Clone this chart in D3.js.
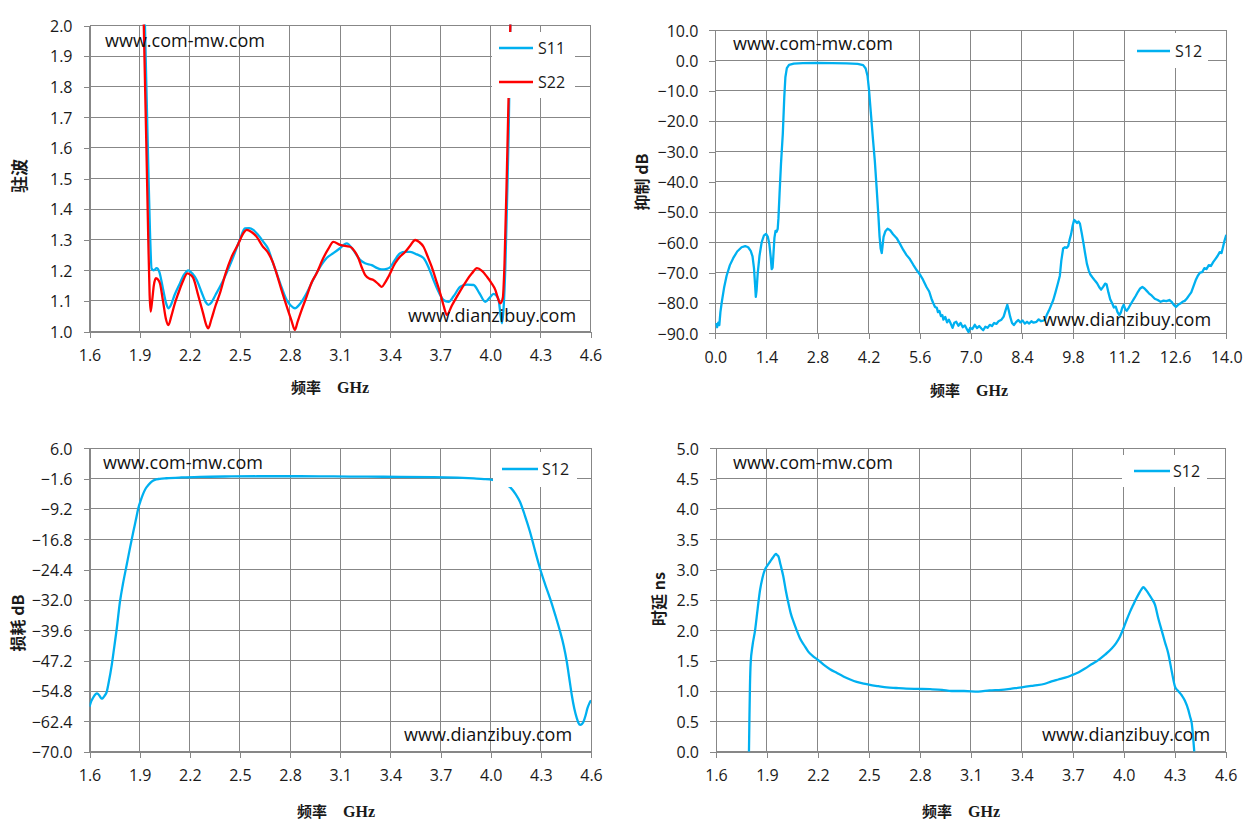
<!DOCTYPE html>
<html><head><meta charset="utf-8">
<script src="https://cdn.jsdelivr.net/npm/d3@7"></script>
<style>
html,body{margin:0;padding:0;background:#fff;}
svg{display:block;}
</style>
</head><body>
<svg id="chart" width="1255" height="833"></svg>
<script>
// ---------- tick labels ----------
const freqTicksNarrow = [1.6,1.9,2.2,2.5,2.8,3.1,3.4,3.7,4.0,4.3,4.6];
const freqTicksWide = [0,1.4,2.8,4.2,5.6,7.0,8.4,9.8,11.2,12.6,14.0];
const vswrTicks = [1.0,1.1,1.2,1.3,1.4,1.5,1.6,1.7,1.8,1.9,2.0];
const rejTicks = [-90,-80,-70,-60,-50,-40,-30,-20,-10,0,10];
const lossTicks = [-70,-62.4,-54.8,-47.2,-39.6,-32,-24.4,-16.8,-9.2,-1.6,6.0];
const delayTicks = [0,0.5,1.0,1.5,2.0,2.5,3.0,3.5,4.0,4.5,5.0];

// ---------- series (freq GHz, value) ----------
const vswrS11 = [[1.92,2.25],[1.932,2.0],[1.945,1.70],[1.952,1.54],[1.962,1.33],[1.972,1.205],[1.985,1.200],[2.002,1.207],[2.018,1.195],[2.04,1.14],[2.06,1.09],[2.072,1.076],[2.09,1.09],[2.11,1.12],[2.142,1.158],[2.165,1.185],[2.192,1.200],[2.215,1.19],[2.242,1.168],[2.27,1.13],[2.295,1.097],[2.311,1.087],[2.33,1.095],[2.355,1.12],[2.381,1.146],[2.42,1.19],[2.461,1.244],[2.50,1.30],[2.531,1.337],[2.556,1.338],[2.581,1.332],[2.61,1.315],[2.641,1.293],[2.67,1.27],[2.695,1.23],[2.721,1.19],[2.75,1.145],[2.781,1.103],[2.805,1.085],[2.83,1.076],[2.86,1.09],[2.90,1.125],[2.94,1.17],[2.98,1.21],[3.02,1.24],[3.06,1.256],[3.10,1.272],[3.14,1.288],[3.18,1.266],[3.22,1.234],[3.25,1.223],[3.29,1.217],[3.32,1.208],[3.35,1.203],[3.38,1.205],[3.40,1.21],[3.43,1.235],[3.46,1.256],[3.49,1.26],[3.52,1.26],[3.56,1.252],[3.60,1.24],[3.63,1.21],[3.66,1.168],[3.69,1.13],[3.72,1.103],[3.75,1.097],[3.78,1.115],[3.82,1.146],[3.86,1.153],[3.90,1.152],[3.935,1.125],[3.97,1.097],[3.995,1.11],[4.02,1.123],[4.04,1.115],[4.05,1.103],[4.06,1.06],[4.07,1.027],[4.08,1.08],[4.09,1.21],[4.10,1.42],[4.11,1.65],[4.12,2.0],[4.13,2.3]];
const vswrS22 = [[1.915,2.25],[1.925,2.0],[1.94,1.62],[1.952,1.30],[1.96,1.12],[1.966,1.065],[1.975,1.10],[1.985,1.15],[1.998,1.174],[2.01,1.17],[2.022,1.157],[2.04,1.10],[2.058,1.04],[2.072,1.021],[2.09,1.05],[2.11,1.09],[2.132,1.125],[2.16,1.165],[2.186,1.19],[2.205,1.185],[2.222,1.174],[2.25,1.12],[2.28,1.06],[2.30,1.02],[2.311,1.010],[2.33,1.04],[2.355,1.085],[2.381,1.125],[2.415,1.19],[2.451,1.244],[2.49,1.285],[2.52,1.32],[2.541,1.332],[2.57,1.325],[2.60,1.31],[2.635,1.28],[2.671,1.256],[2.695,1.23],[2.72,1.19],[2.75,1.135],[2.781,1.082],[2.81,1.035],[2.83,1.005],[2.845,1.03],[2.87,1.07],[2.90,1.114],[2.93,1.16],[2.96,1.19],[3.00,1.24],[3.03,1.27],[3.06,1.293],[3.10,1.283],[3.16,1.277],[3.19,1.26],[3.21,1.24],[3.23,1.21],[3.25,1.185],[3.28,1.172],[3.30,1.168],[3.33,1.155],[3.35,1.146],[3.37,1.16],[3.39,1.179],[3.43,1.223],[3.46,1.245],[3.49,1.26],[3.52,1.28],[3.55,1.299],[3.575,1.292],[3.60,1.277],[3.625,1.245],[3.65,1.21],[3.675,1.168],[3.70,1.125],[3.72,1.085],[3.74,1.054],[3.77,1.085],[3.80,1.114],[3.83,1.142],[3.86,1.168],[3.89,1.19],[3.92,1.207],[3.95,1.198],[3.98,1.179],[4.005,1.16],[4.03,1.136],[4.045,1.11],[4.06,1.092],[4.075,1.11],[4.085,1.22],[4.10,1.54],[4.11,1.78],[4.12,2.0],[4.13,2.3]];

const rejS12 = [[0.02,-86.6],[0.05,-88.0],[0.08,-86.5],[0.11,-87.3],[0.14,-83],[0.18,-79.5],[0.24,-75],[0.31,-71],[0.40,-67.5],[0.49,-65.2],[0.60,-63],[0.72,-61.6],[0.82,-61.2],[0.90,-61.6],[0.97,-62.8],[1.02,-64.6],[1.06,-68.5],[1.09,-74],[1.11,-78],[1.13,-76],[1.16,-70.5],[1.21,-64.5],[1.27,-60],[1.33,-57.8],[1.39,-57.2],[1.44,-58.2],[1.48,-60.5],[1.52,-65],[1.545,-68.8],[1.57,-68.3],[1.59,-64.5],[1.62,-58.5],[1.65,-56.2],[1.68,-56.5],[1.71,-55.5],[1.73,-52],[1.76,-44],[1.80,-34],[1.85,-24],[1.89,-12],[1.92,-5.5],[1.96,-2.5],[2.02,-1.4],[2.15,-1.0],[2.4,-0.85],[2.8,-0.8],[3.2,-0.82],[3.6,-0.9],[3.9,-1.1],[4.05,-1.5],[4.12,-2.6],[4.17,-5],[4.21,-9.5],[4.26,-17],[4.32,-26],[4.37,-33],[4.42,-42],[4.47,-51.5],[4.50,-58],[4.53,-62],[4.56,-63.5],[4.58,-61.5],[4.61,-58.2],[4.66,-56.3],[4.72,-55.5],[4.79,-56],[4.87,-57.3],[4.97,-58.6],[5.06,-60.5],[5.15,-62.5],[5.24,-64.2],[5.33,-65.5],[5.42,-67.3],[5.52,-69.2],[5.60,-70.5],[5.69,-72.3],[5.79,-74.8],[5.86,-76.2],[5.92,-78.5],[5.97,-80],[6.02,-81.3],[6.07,-81.6],[6.10,-83],[6.14,-82.6],[6.18,-84.3],[6.22,-84],[6.25,-85.5],[6.30,-84.6],[6.35,-86.4],[6.40,-85.5],[6.45,-86.8],[6.50,-88.2],[6.55,-86.5],[6.60,-86.2],[6.66,-87.5],[6.72,-86.6],[6.78,-88],[6.84,-87.4],[6.90,-88.8],[6.94,-89.6],[6.98,-88.2],[7.04,-88.6],[7.11,-87.2],[7.17,-88.3],[7.23,-87.6],[7.29,-88.4],[7.34,-89],[7.40,-87.8],[7.46,-88.2],[7.52,-87.2],[7.58,-87.6],[7.64,-86.6],[7.70,-86.9],[7.76,-86],[7.84,-85.5],[7.90,-84.5],[7.95,-82.5],[8.00,-80.6],[8.04,-82.5],[8.08,-84.6],[8.13,-86.6],[8.18,-87.3],[8.24,-86.3],[8.30,-85.6],[8.36,-86.4],[8.42,-85.8],[8.48,-86.8],[8.54,-86.2],[8.60,-86.8],[8.66,-86],[8.72,-86.5],[8.80,-86.2],[8.86,-85.4],[8.92,-86],[8.98,-85.8],[9.03,-85.6],[9.08,-84],[9.14,-82.5],[9.20,-80.8],[9.26,-79],[9.32,-76.5],[9.38,-73.8],[9.44,-71],[9.48,-66],[9.53,-62],[9.58,-61.6],[9.63,-61.8],[9.67,-61.2],[9.71,-59],[9.75,-57.2],[9.79,-54.5],[9.83,-52.6],[9.87,-53],[9.91,-53.6],[9.95,-53.1],[9.99,-53.8],[10.04,-57],[10.09,-60.5],[10.13,-63.5],[10.18,-67],[10.23,-69.2],[10.27,-70.5],[10.33,-71.5],[10.40,-72.6],[10.46,-73.5],[10.52,-74.8],[10.57,-75.6],[10.63,-74.6],[10.68,-73.6],[10.72,-73.8],[10.77,-76.5],[10.82,-78.8],[10.87,-80],[10.92,-81.5],[10.97,-81.2],[11.02,-83],[11.07,-84],[11.11,-83.2],[11.15,-81.5],[11.19,-80.6],[11.23,-82],[11.27,-82.6],[11.33,-81.5],[11.40,-80],[11.46,-78.8],[11.52,-77.6],[11.58,-76.3],[11.64,-75.2],[11.70,-74.7],[11.76,-75.2],[11.82,-76],[11.88,-76.8],[11.96,-77.6],[12.04,-78.6],[12.12,-79],[12.20,-79.6],[12.28,-79.2],[12.36,-79.4],[12.44,-79],[12.50,-79.6],[12.56,-80.6],[12.62,-81.3],[12.68,-80.6],[12.74,-80.2],[12.80,-79.6],[12.86,-79.3],[12.92,-78.5],[12.98,-77.5],[13.04,-76.5],[13.10,-74.5],[13.16,-72.5],[13.22,-71],[13.28,-70],[13.34,-69.8],[13.40,-68.5],[13.46,-68.8],[13.52,-67.5],[13.58,-67.8],[13.64,-66.5],[13.70,-65.5],[13.76,-64.5],[13.82,-63.2],[13.87,-63.5],[13.91,-61.5],[13.95,-59.5],[14.0,-57.5]];

const lossS12 = [[1.60,-58.7],[1.61,-57.4],[1.62,-56.6],[1.632,-55.8],[1.643,-55.4],[1.653,-55.6],[1.663,-56.2],[1.672,-56.7],[1.679,-56.6],[1.69,-56.0],[1.703,-55.0],[1.715,-52.6],[1.733,-48.3],[1.748,-43.8],[1.763,-39.2],[1.782,-32.5],[1.80,-28],[1.822,-23.3],[1.842,-19],[1.862,-14.9],[1.878,-11.8],[1.892,-9.0],[1.907,-7],[1.922,-5.3],[1.937,-4.0],[1.952,-3.2],[1.97,-2.4],[1.99,-1.9],[2.02,-1.65],[2.06,-1.5],[2.15,-1.3],[2.26,-1.15],[2.45,-1.05],[2.66,-1.0],[2.86,-1.0],[3.06,-1.05],[3.26,-1.1],[3.46,-1.15],[3.66,-1.2],[3.80,-1.35],[3.90,-1.55],[3.96,-1.7],[4.01,-1.9],[4.05,-2.2],[4.09,-3.0],[4.12,-3.9],[4.148,-5.4],[4.175,-7.4],[4.205,-10.9],[4.235,-14.9],[4.265,-19.6],[4.295,-24.1],[4.325,-28],[4.355,-31.6],[4.385,-35.6],[4.415,-39.9],[4.437,-43.5],[4.455,-47.4],[4.47,-51.6],[4.485,-55.8],[4.50,-59.2],[4.515,-61.6],[4.525,-62.8],[4.535,-63.3],[4.545,-63.1],[4.555,-62.5],[4.567,-61.0],[4.579,-59.1],[4.59,-57.9],[4.60,-57.1]];

const delayS12 = [[1.794,0],[1.797,0.6],[1.800,1.1],[1.804,1.46],[1.815,1.75],[1.83,2.0],[1.845,2.35],[1.859,2.66],[1.873,2.86],[1.888,3.0],[1.903,3.07],[1.918,3.13],[1.935,3.2],[1.948,3.25],[1.953,3.26],[1.960,3.24],[1.967,3.22],[1.98,3.08],[1.996,2.89],[2.01,2.67],[2.026,2.45],[2.04,2.28],[2.055,2.15],[2.075,2.0],[2.094,1.87],[2.12,1.75],[2.143,1.65],[2.17,1.575],[2.202,1.51],[2.235,1.43],[2.271,1.36],[2.31,1.30],[2.35,1.24],[2.39,1.19],[2.428,1.15],[2.47,1.12],[2.506,1.10],[2.555,1.08],[2.605,1.06],[2.66,1.05],[2.72,1.04],[2.79,1.035],[2.86,1.03],[2.93,1.02],[2.987,1.0],[3.06,1.0],[3.144,0.99],[3.21,1.01],[3.28,1.02],[3.34,1.04],[3.40,1.06],[3.47,1.09],[3.536,1.12],[3.575,1.16],[3.615,1.19],[3.655,1.22],[3.694,1.26],[3.735,1.31],[3.772,1.37],[3.81,1.44],[3.85,1.51],[3.89,1.60],[3.929,1.70],[3.955,1.79],[3.978,1.90],[3.998,2.03],[4.017,2.17],[4.036,2.30],[4.056,2.42],[4.073,2.52],[4.09,2.61],[4.103,2.67],[4.115,2.71],[4.13,2.67],[4.145,2.61],[4.165,2.52],[4.184,2.42],[4.203,2.2],[4.223,2.0],[4.243,1.8],[4.262,1.62],[4.282,1.33],[4.302,1.07],[4.32,1.0],[4.341,0.93],[4.36,0.84],[4.38,0.69],[4.39,0.58],[4.40,0.47],[4.408,0.25],[4.415,0]];

// ---------- drawing ----------
const svg = d3.select("#chart");
const TICK_FONT = "'Open Sans','Noto Sans',sans-serif";
const GRID = "#878787";
const BLUE = "#00B0F0", RED = "#FF0000";
const fmt1 = d3.format(".1f");

function drawPanel(cfg, idx) {
  const x = d3.scaleLinear().domain(cfg.xDomain).range([cfg.left, cfg.right]);
  const y = d3.scaleLinear().domain(cfg.yDomain).range([cfg.bottom, cfg.top]);
  const g = svg.append("g");

  // gridlines
  g.append("g").selectAll("line").data(cfg.xTicks).join("line")
    .attr("x1", d => x(d)).attr("x2", d => x(d))
    .attr("y1", cfg.top).attr("y2", cfg.bottom)
    .attr("stroke", GRID).attr("stroke-width", 1).attr("shape-rendering","crispEdges");
  g.append("g").selectAll("line").data(cfg.yTicks).join("line")
    .attr("x1", cfg.left).attr("x2", cfg.right)
    .attr("y1", d => y(d)).attr("y2", d => y(d))
    .attr("stroke", GRID).attr("stroke-width", 1).attr("shape-rendering","crispEdges");

  // axes
  const xAxis = d3.axisBottom(x).tickValues(cfg.xTicks).tickFormat(fmt1).tickSizeInner(6).tickSizeOuter(0).tickPadding(12);
  const yAxis = d3.axisLeft(y).tickValues(cfg.yTicks).tickFormat(fmt1).tickSizeInner(6).tickSizeOuter(0).tickPadding(11);
  const gx = g.append("g").attr("transform", `translate(0,${cfg.bottom})`).call(xAxis);
  const gy = g.append("g").attr("transform", `translate(${cfg.left},0)`).call(yAxis);
  [gx, gy].forEach(a => {
    a.select(".domain").attr("stroke", GRID).attr("stroke-width", 1).attr("shape-rendering","crispEdges");
    a.selectAll(".tick line").attr("stroke", GRID).attr("shape-rendering","crispEdges");
    a.selectAll(".tick text").attr("font-family", TICK_FONT).attr("font-size", "16px").attr("fill", "#1a1a1a");
  });
  gy.selectAll(".tick text").attr("dy", "0.36em");

  // clip
  const cid = "clip" + idx;
  svg.append("clipPath").attr("id", cid).append("rect")
    .attr("x", cfg.left).attr("y", cfg.top - 1)
    .attr("width", cfg.right - cfg.left).attr("height", cfg.bottom - cfg.top + 1);

  const line = d3.line().x(d => x(d[0])).y(d => y(d[1])).curve(cfg.curve || d3.curveMonotoneX);
  cfg.series.forEach(s => {
    g.append("path").datum(s.data).attr("clip-path", `url(#${cid})`)
      .attr("d", line).attr("fill", "none").attr("stroke", s.color)
      .attr("stroke-width", 2.3).attr("stroke-linejoin", "round");
  });

  // watermarks
  g.append("text").attr("x", cfg.wm1[0]).attr("y", cfg.wm1[1]).text("www.com-mw.com")
    .attr("font-family", TICK_FONT).attr("font-size", "18px").attr("fill", "#111");
  g.append("text").attr("x", cfg.wm2[0]).attr("y", cfg.wm2[1]).text("www.dianzibuy.com")
    .attr("font-family", TICK_FONT).attr("font-size", "18px").attr("fill", "#111");

  // legend
  const lg = cfg.legend;
  g.append("rect").attr("x", lg.box[0]).attr("y", lg.box[1]).attr("width", lg.box[2]).attr("height", lg.box[3]).attr("fill", "#fff");
  cfg.series.forEach((s, i) => {
    const ly = lg.rows[i];
    g.append("line").attr("x1", lg.lx0).attr("x2", lg.lx1).attr("y1", ly).attr("y2", ly)
      .attr("stroke", s.color).attr("stroke-width", 2.3);
    g.append("text").attr("x", lg.tx).attr("y", ly).attr("dy", "0.36em").text(s.name)
      .attr("font-family", TICK_FONT).attr("font-size", "16px").attr("fill", "#1a1a1a");
  });

  // x title
  const xt = g.append("text").attr("x", cfg.xTitle[0]).attr("y", cfg.xTitle[1])
    .attr("font-family", "'Liberation Serif','Noto Sans CJK SC',serif").attr("font-weight", "bold")
    .attr("font-size", "16px").attr("fill", "#1a1a1a");
  xt.append("tspan").attr("font-family", "'Noto Sans CJK SC',sans-serif").attr("font-size", "15px").text("频率");
  xt.append("tspan").attr("x", cfg.xTitle[0] + 46).text("GHz");
  // y title
  g.append("text").attr("transform", `translate(${cfg.yTitle[0]},${cfg.yTitle[1]}) rotate(-90)`)
    .attr("text-anchor", "middle").attr("dy", "0.36em").text(cfg.yLabel)
    .attr("font-family", "'Noto Sans CJK SC','Liberation Sans',sans-serif").attr("font-weight", "bold")
    .attr("font-size", cfg.yLabelSize || "16px").attr("fill", "#1a1a1a");
}

const panels = [
  { left: 89.5, right: 590.5, top: 25.5, bottom: 331.5, xDomain: [1.6, 4.6], yDomain: [1.0, 2.0],
    xTicks: freqTicksNarrow, yTicks: vswrTicks, yLabel: "驻波", yLabelSize: "17px",
    series: [{ name: "S11", color: BLUE, data: vswrS11 }, { name: "S22", color: RED, data: vswrS22 }],
    wm1: [105, 47], wm2: [408, 322],
    legend: { box: [492, 32, 83, 66], lx0: 499, lx1: 533, tx: 538, rows: [48, 82] },
    xTitle: [291, 393], yTitle: [20, 176] },
  { left: 715.3, right: 1226.3, top: 30.3, bottom: 333.3, xDomain: [0, 14], yDomain: [-90, 10],
    xTicks: freqTicksWide, yTicks: rejTicks, yLabel: "抑制 dB", curve: d3.curveLinear,
    series: [{ name: "S12", color: BLUE, data: rejS12 }],
    wm1: [733, 50], wm2: [1043, 326],
    legend: { box: [1125, 33, 83, 35], lx0: 1137, lx1: 1170, tx: 1175, rows: [51] },
    xTitle: [930, 396], yTitle: [642, 182] },
  { left: 89.5, right: 591, top: 448.3, bottom: 751.7, xDomain: [1.6, 4.6], yDomain: [-70, 6],
    xTicks: freqTicksNarrow, yTicks: lossTicks, yLabel: "损耗 dB",
    series: [{ name: "S12", color: BLUE, data: lossS12 }],
    wm1: [103, 469], wm2: [404, 741],
    legend: { box: [493, 452, 84, 35], lx0: 502, lx1: 538, tx: 542, rows: [469] },
    xTitle: [297, 817], yTitle: [18, 623] },
  { left: 716, right: 1225.7, top: 448.3, bottom: 751.7, xDomain: [1.6, 4.6], yDomain: [0, 5],
    xTicks: freqTicksNarrow, yTicks: delayTicks, yLabel: "时延 ns",
    series: [{ name: "S12", color: BLUE, data: delayS12 }],
    wm1: [733, 469], wm2: [1042, 741],
    legend: { box: [1122, 455, 85, 32], lx0: 1134, lx1: 1170, tx: 1173, rows: [471] },
    xTitle: [922, 817], yTitle: [659, 599] }
];
panels.forEach(drawPanel);
</script>
</body></html>
